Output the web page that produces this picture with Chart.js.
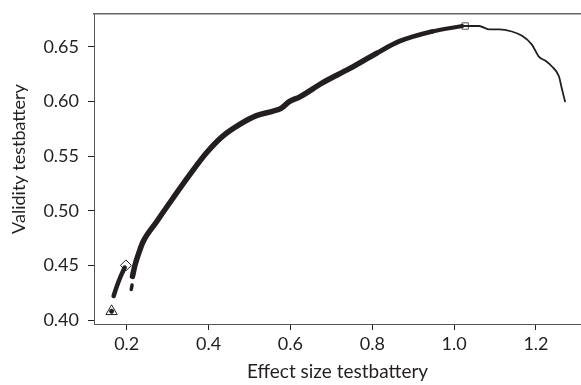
<!DOCTYPE html>
<html>
<head>
<meta charset="utf-8">
<script src="https://cdn.jsdelivr.net/npm/chart.js@4/dist/chart.umd.min.js"></script>
<style>
html,body{margin:0;padding:0;background:#fff;}
#wrap{width:581px;height:385px;}
</style>
</head>
<body>
<div id="wrap"><canvas id="c" width="581" height="385"></canvas></div>
<script>
// ---- data ----
const lowerX = [0.168, 0.175, 0.183, 0.190, 0.195];
const lowerY = [0.422, 0.430, 0.438, 0.444, 0.448];

const dotX = [0.211, 0.213];
const dotY = [0.428, 0.432];

const mainX = [0.214, 0.220, 0.232, 0.239, 0.273, 0.312, 0.354, 0.395, 0.434, 0.476, 0.517, 0.556, 0.578, 0.598, 0.622, 0.678, 0.744, 0.810, 0.866, 0.946, 1.020];
const mainY = [0.440, 0.450, 0.464, 0.471, 0.490, 0.511, 0.533, 0.553, 0.568, 0.579, 0.587, 0.591, 0.594, 0.600, 0.604, 0.617, 0.630, 0.644, 0.655, 0.664, 0.669];

const tailX = [1.020, 1.061, 1.085, 1.110, 1.141, 1.166, 1.190, 1.207, 1.224, 1.239, 1.256, 1.263, 1.271];
const tailY = [0.669, 0.669, 0.666, 0.666, 0.664, 0.660, 0.652, 0.641, 0.637, 0.632, 0.623, 0.612, 0.600];

const triangleX = [0.163], triangleY = [0.408];
const diamondX = [0.198], diamondY = [0.450];
const squareX = [1.027], squareY = [0.669];

const xTicks = [0.2, 0.4, 0.6, 0.8, 1.0, 1.2];
const xTickLabels = ['0.2', '0.4', '0.6', '0.8', '1.0', '1.2'];
const yTicks = [0.40, 0.45, 0.50, 0.55, 0.60, 0.65];
const yTickLabels = ['0.40', '0.45', '0.50', '0.55', '0.60', '0.65'];

const xTitle = 'Effect size testbattery';
const yTitle = 'Validity testbattery';

// ---- build ----
const pts = (xs, ys) => xs.map((x, i) => ({x: x, y: ys[i]}));
const ink = '#231f20';
const tickFont = {family: 'Lato', size: 18};
const titleFont = {family: 'Lato', size: 19};

const lineBase = {showLine: true, pointRadius: 0, borderColor: ink, fill: false, cubicInterpolationMode: 'monotone', borderCapStyle: 'round', borderJoinStyle: 'round'};

const zeroPad = s => { s.paddingLeft = 0; s.paddingRight = 0; s.paddingTop = 0; s.paddingBottom = 0; };

const yTitlePlugin = {
  id: 'yTitle',
  afterDraw(chart) {
    const ctx = chart.ctx;
    ctx.save();
    ctx.translate(19, 159);
    ctx.rotate(-Math.PI / 2);
    ctx.font = '18px Lato';
    ctx.fillStyle = ink;
    ctx.textAlign = 'center';
    ctx.textBaseline = 'middle';
    ctx.fillText(yTitle, 0, 0);
    ctx.restore();
  }
};

new Chart(document.getElementById('c'), {
  type: 'scatter',
  data: {
    datasets: [
      Object.assign({}, lineBase, {data: pts(lowerX, lowerY), borderWidth: 4.5}),
      Object.assign({}, lineBase, {data: pts(dotX, dotY), borderWidth: 3.5}),
      Object.assign({}, lineBase, {data: pts(mainX, mainY), borderWidth: 5.5,
        segment: {borderWidth: ctx => ctx.p0.parsed.x > 0.9 ? 4 : (ctx.p0.parsed.x > 0.8 ? 4.8 : 5.5)}}),
      Object.assign({}, lineBase, {data: pts(tailX, tailY), borderWidth: 1.8}),
      {data: pts(triangleX, triangleY), pointStyle: 'triangle', pointRadius: 6.5, borderColor: ink, backgroundColor: 'rgba(255,255,255,0)', borderWidth: 1, showLine: false},
      {data: pts(triangleX, triangleY), pointStyle: 'star', pointRadius: 2.5, borderColor: ink, backgroundColor: ink, borderWidth: 1.5, showLine: false},
      {data: pts(diamondX, diamondY), pointStyle: 'rectRot', pointRadius: 5.5, borderColor: ink, backgroundColor: '#fff', borderWidth: 1, showLine: false},
      {data: pts(squareX, squareY), pointStyle: 'rect', pointRadius: 4.5, borderColor: '#555', backgroundColor: 'rgba(255,255,255,0)', borderWidth: 1, showLine: false}
    ]
  },
  plugins: [yTitlePlugin],
  options: {
    responsive: false,
    animation: false,
    events: [],
    layout: {padding: 0, autoPadding: false},
    plugins: {legend: {display: false}, tooltip: {enabled: false}},
    scales: {
      x: {
        type: 'linear', position: 'bottom', min: 0.12, max: 1.31,
        afterBuildTicks: s => { s.ticks = xTicks.map(v => ({value: v})); },
        afterFit: s => { s.height = 61; zeroPad(s); },
        ticks: {font: tickFont, color: ink, padding: 3, maxRotation: 0,
          callback: (v) => xTickLabels[xTicks.indexOf(Math.round(v * 10) / 10)] || ''},
        grid: {drawOnChartArea: false, drawTicks: true, tickLength: 6, color: ink},
        border: {display: true, color: '#555', width: 1},
        title: {display: true, text: xTitle, font: titleFont, color: ink, padding: {top: 0, bottom: 2}}
      },
      xTop: {
        type: 'linear', position: 'top', min: 0.12, max: 1.31,
        afterFit: s => { s.height = 14; zeroPad(s); },
        ticks: {display: false},
        grid: {display: false, drawTicks: false},
        border: {display: true, color: '#666', width: 1.5}
      },
      y: {
        type: 'linear', position: 'left', min: 0.3964, max: 0.680,
        afterBuildTicks: s => { s.ticks = yTicks.map(v => ({value: v})); },
        afterFit: s => { s.width = 94; zeroPad(s); },
        ticks: {font: tickFont, color: ink, padding: 9,
          callback: (v) => yTickLabels[yTicks.indexOf(Math.round(v * 100) / 100)] || ''},
        grid: {drawOnChartArea: false, drawTicks: true, tickLength: 6, color: ink},
        border: {display: true, color: '#555', width: 1},
        title: {display: false}
      }
    }
  }
});
</script>
</body>
</html>
